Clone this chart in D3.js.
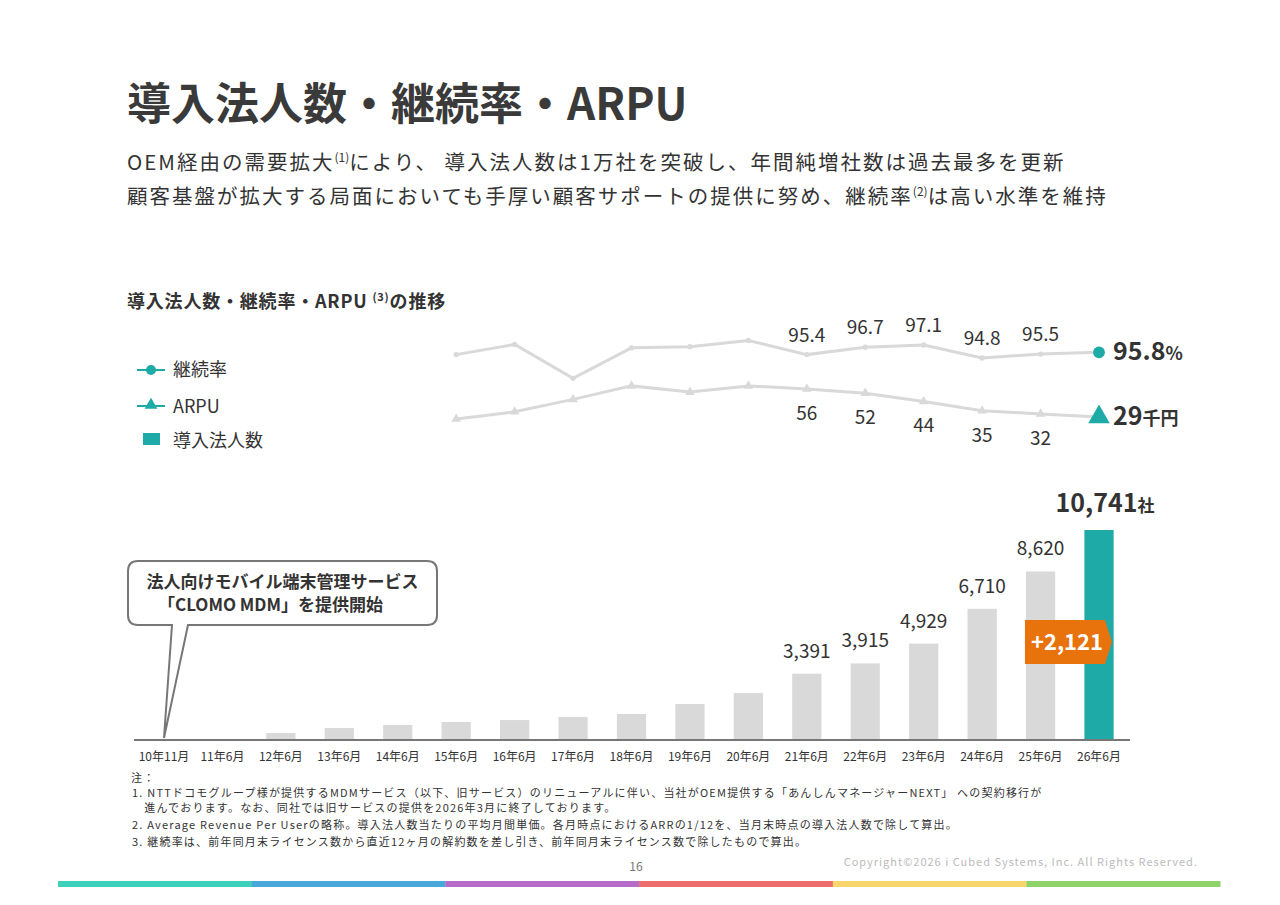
<!DOCTYPE html>
<html><head><meta charset="utf-8">
<script src="https://cdn.jsdelivr.net/npm/d3@7"></script>
<style>body{margin:0;background:#fff;font-family:"Noto Sans CJK JP","Noto Sans",sans-serif;}</style>
</head><body>
<svg id="c" width="1280" height="905"></svg>
<script>
const periods = ["10年11月","11年6月","12年6月","13年6月","14年6月","15年6月","16年6月","17年6月","18年6月","19年6月","20年6月","21年6月","22年6月","23年6月","24年6月","25年6月","26年6月"];
const companies = [0, 20, 360, 610, 770, 920, 1020, 1180, 1330, 1840, 2400, 3391, 3915, 4929, 6710, 8620, 10741];
const companyLabels = [null,null,null,null,null,null,null,null,null,null,null,"3,391","3,915","4,929","6,710","8,620",null];
const linePeriods = periods.slice(5);
const retention = [95.4, 97.2, 91.2, 96.6, 96.8, 97.9, 95.4, 96.7, 97.1, 94.8, 95.5, 95.8];
const arpu = [27, 34, 46, 59, 53, 59, 56, 52, 44, 35, 32, 29];
const retLabelFrom = 6;
const teal = "#1eaaa6", gray = "#d9d9d9", dark = "#333";

const svg = d3.select("#c");
const font = '"Noto Sans CJK JP",sans-serif';

// titles
svg.append("text").attr("x",127).attr("y",120).attr("font-size",44).attr("font-weight",700).attr("fill","#3a3a3a").attr("font-family",font).text("導入法人数・継続率・ARPU");
const sub = [["OEM経由の需要拡大","(1)","により、 導入法人数は1万社を突破し、年間純増社数は過去最多を更新"],
             ["顧客基盤が拡大する局面においても手厚い顧客サポートの提供に努め、継続率","(2)","は高い水準を維持"]];
sub.forEach((s,i)=>{
  const t = svg.append("text").attr("x",127).attr("y",170+i*34).attr("font-size",20.5).attr("letter-spacing",2).attr("fill",dark).attr("font-family",font);
  t.append("tspan").text(s[0]);
  t.append("tspan").attr("font-size",12).attr("letter-spacing",0).attr("dy",-8).text(s[1]);
  t.append("tspan").attr("dy",8).text(s[2]);
});
const st = svg.append("text").attr("x",127).attr("y",308).attr("font-size",18).attr("letter-spacing",0.8).attr("font-weight",700).attr("fill",dark).attr("font-family",font);
st.append("tspan").text("導入法人数・継続率・ARPU ");
st.append("tspan").attr("font-size",11).attr("dy",-7).text("(3)");
st.append("tspan").attr("dy",7).text("の推移");

// legend
const lg = svg.append("g").attr("font-family",font).attr("font-size",18).attr("fill",dark);
lg.append("line").attr("x1",137).attr("x2",165).attr("y1",370).attr("y2",370).attr("stroke",teal).attr("stroke-width",2);
lg.append("circle").attr("cx",151).attr("cy",370).attr("r",5).attr("fill",teal);
lg.append("text").attr("x",173).attr("y",376).text("継続率");
lg.append("line").attr("x1",137).attr("x2",165).attr("y1",406).attr("y2",406).attr("stroke",teal).attr("stroke-width",2);
lg.append("path").attr("d",d3.symbol(d3.symbolTriangle,70)()).attr("transform","translate(151,405)").attr("fill",teal);
lg.append("text").attr("x",173).attr("y",413).text("ARPU");
lg.append("rect").attr("x",143).attr("y",433).attr("width",17).attr("height",12).attr("fill",teal);
lg.append("text").attr("x",173).attr("y",447).text("導入法人数");

// bars
const x = d3.scaleBand().domain(periods).range([126,1137]).paddingInner(0.5).paddingOuter(0.4);
const yB = d3.scaleLinear().domain([0,10741]).range([740,530]);
svg.append("g").selectAll("rect").data(companies).join("rect")
  .attr("x",(d,i)=>x(periods[i])).attr("width",x.bandwidth())
  .attr("y",d=>yB(d)).attr("height",d=>740-yB(d))
  .attr("fill",(d,i)=>i===periods.length-1?teal:gray);
companyLabels.forEach((d,i)=>{ if(!d) return;
  svg.append("text").attr("x",x(periods[i])+x.bandwidth()/2).attr("y",yB(companies[i])-16)
    .attr("text-anchor","middle").attr("font-size",19).attr("fill",dark).attr("font-family",font).text(d);
});
const last = periods.length-1;
const lt = svg.append("text").attr("x",x(periods[last])+x.bandwidth()/2+6).attr("y",yB(companies[last])-18).attr("text-anchor","middle").attr("font-family",font).attr("fill",dark).attr("font-weight",700);
lt.append("tspan").attr("font-size",25).text("10,741");
lt.append("tspan").attr("font-size",17).text("社");

const axis = svg.append("g").attr("transform","translate(0,740)").call(d3.axisBottom(x).tickSize(0).tickPadding(12));
axis.select(".domain").attr("d","M134,0H1130").attr("stroke","#777").attr("stroke-width",2);
axis.selectAll("text").attr("font-size",12).attr("fill",dark).attr("font-family",font);

// +2,121 arrow
const ax = x(periods[last-1])-1, aw = 80;
svg.append("path").attr("d",`M${ax},620H${ax+aw}L${ax+aw+7},642L${ax+aw},664H${ax}Z`).attr("fill","#e8720c");
svg.append("text").attr("x",ax+aw/2+2).attr("y",650).attr("text-anchor","middle").attr("font-size",22).attr("font-weight",700).attr("fill","#fff").attr("font-family",font).text("+2,121");

// lines
const xc = p => x(p)+x.bandwidth()/2;
const yR = d3.scaleLinear().domain([94.8,97.1]).range([358,345]);
const yA = d3.scaleLinear().domain([29,56]).range([417,389]);
function series(vals, y, sym, size, fmt, labelDy, endTxt, endUnit){
  const g = svg.append("g");
  g.append("path").datum(vals).attr("fill","none").attr("stroke",gray).attr("stroke-width",3)
    .attr("d",d3.line().x((d,i)=>xc(linePeriods[i])).y(d=>y(d)));
  g.selectAll("path.m").data(vals).join("path").attr("class","m")
    .attr("transform",(d,i)=>`translate(${xc(linePeriods[i])},${y(d)})`)
    .attr("d",(d,i)=>d3.symbol(sym,i===vals.length-1?size*5:size)())
    .attr("fill",(d,i)=>i===vals.length-1?teal:gray);
  vals.forEach((d,i)=>{ if(i<retLabelFrom||i===vals.length-1) return;
    g.append("text").attr("x",xc(linePeriods[i])).attr("y",y(d)+labelDy)
      .attr("text-anchor","middle").attr("font-size",19).attr("fill",dark).attr("font-family",font).text(fmt(d));
  });
  const e = g.append("text").attr("x",xc(linePeriods[vals.length-1])+14).attr("y",y(vals[vals.length-1])+8).attr("font-family",font).attr("font-weight",700).attr("fill",dark);
  e.append("tspan").attr("font-size",25).text(endTxt);
  e.append("tspan").attr("font-size",18).text(endUnit);
}
series(retention, yR, d3.symbolCircle, 22, d=>d.toFixed(1), -13, "95.8", "%");
series(arpu, yA, d3.symbolTriangle, 40, d=>d, 31, "29", "千円");

// callout
const bx0=128,by0=561,bx1=437,by1=625,r=10, tx=x(periods[0])+x.bandwidth()/2;
svg.append("path").attr("d",`M${bx0+r},${by0}H${bx1-r}Q${bx1},${by0} ${bx1},${by0+r}V${by1-r}Q${bx1},${by1} ${bx1-r},${by1}H${188}L${tx},738L${172},${by1}H${bx0+r}Q${bx0},${by1} ${bx0},${by1-r}V${by0+r}Q${bx0},${by0} ${bx0+r},${by0}Z`)
  .attr("fill","#fff").attr("stroke","#777").attr("stroke-width",2);
["法人向けモバイル端末管理サービス","「CLOMO MDM」を提供開始"].forEach((s,i)=>
  svg.append("text").attr("x",(bx0+bx1)/2+(i?-12:0)).attr("y",588+i*23).attr("text-anchor","middle").attr("font-size",17).attr("font-weight",700).attr("fill",dark).attr("font-family",font).text(s));

// notes
const notes = ["注：","1. NTTドコモグループ様が提供するMDMサービス（以下、旧サービス）のリニューアルに伴い、当社がOEM提供する「あんしんマネージャーNEXT」 への契約移行が",
"　進んでおります。なお、同社では旧サービスの提供を2026年3月に終了しております。",
"2. Average Revenue Per Userの略称。導入法人数当たりの平均月間単価。各月時点におけるARRの1/12を、当月末時点の導入法人数で除して算出。",
"3. 継続率は、前年同月末ライセンス数から直近12ヶ月の解約数を差し引き、前年同月末ライセンス数で除したもので算出。"];
notes.forEach((n,i)=>svg.append("text").attr("x",i?132:131).attr("y",782+i*15+(i>2?2:0)+(i>3?2:0)).attr("font-size",11).attr("letter-spacing",1.2).attr("fill",dark).attr("font-family",font).text(n));
svg.append("text").attr("x",636).attr("y",871).attr("text-anchor","middle").attr("font-size",12).attr("fill","#777").attr("font-family",font).text("16");
svg.append("text").attr("x",1198).attr("y",866).attr("text-anchor","end").attr("font-size",11).attr("letter-spacing",1).attr("fill","#bbb").attr("font-family",font).text("Copyright©2026 i Cubed Systems, Inc. All Rights Reserved.");
const colors = ["#3dd0bb","#4aa9da","#b66cc9","#ee6d6d","#f7d66e","#8fd46b"];
svg.selectAll("rect.f").data(colors).join("rect").attr("class","f")
  .attr("x",(d,i)=>58+i*193.7).attr("y",881).attr("width",194).attr("height",6).attr("fill",d=>d);
</script>
</body></html>
